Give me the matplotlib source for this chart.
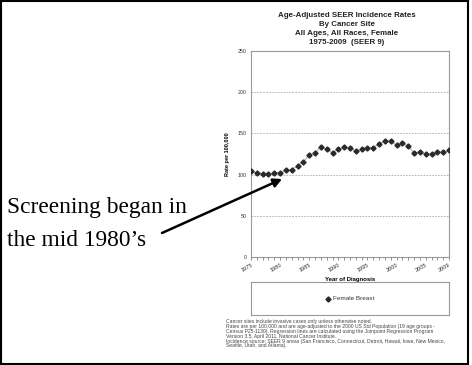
import matplotlib
matplotlib.use("Agg")
import matplotlib.pyplot as plt
from matplotlib.patches import Rectangle, FancyArrowPatch

# data
years = list(range(1975, 2010))
rates = [104.8, 101.6, 100.8, 100.8, 102.0, 102.0, 105.6, 106.0, 110.9, 115.7,
         123.8, 126.2, 133.9, 131.0, 126.6, 131.0, 133.4, 131.8, 128.6, 130.6,
         132.2, 132.6, 137.1, 140.7, 140.7, 135.9, 137.9, 134.7, 126.2, 127.4,
         125.0, 125.0, 127.0, 127.4, 129.4]
ytick_vals = [0, 50, 100, 150, 200, 250]
xtick_years = [1975, 1980, 1985, 1990, 1995, 2000, 2005, 2009]

title_lines = ["Age-Adjusted SEER Incidence Rates", "By Cancer Site",
               "All Ages, All Races, Female", "1975-2009  (SEER 9)"]
foot_lines = [
    "Cancer sites include invasive cases only unless otherwise noted.",
    "Rates are per 100,000 and are age-adjusted to the 2000 US Std Population (19 age groups -",
    "Census P25-1130). Regression lines are calculated using the Joinpoint Regression Program",
    "Version 3.5, April 2011, National Cancer Institute.",
    "Incidence source: SEER 9 areas (San Francisco, Connecticut, Detroit, Hawaii, Iowa, New Mexico,",
    "Seattle, Utah, and Atlanta).",
]

W, H = 472, 365
fig = plt.figure(figsize=(W / 100, H / 100), dpi=100)
sans = ["Liberation Sans", "DejaVu Sans"]
serif = ["Liberation Serif", "DejaVu Serif"]

def fx(px):
    return px / W

def fy(py):
    return 1 - py / H

# main plot
ax = fig.add_axes([fx(251), fy(257), fx(449 - 251), (257 - 51) / H])
ax.plot(years, rates, color="#b0b0b0", lw=0.8, zorder=2)
ax.plot(years, rates, ls="none", marker="D", ms=2.6, color="#2a2a2a", zorder=3)
ax.set_xlim(1975, 2009)
ax.set_ylim(0, 250)
ax.set_yticks(ytick_vals)
ax.set_yticklabels([str(v) for v in ytick_vals], fontsize=3.8, family=sans, color="#333333")
ax.set_xticks(xtick_years)
ax.set_xticks(years, minor=True)
ax.set_xticklabels([str(y) for y in xtick_years], fontsize=4.1, family=sans,
                   rotation=30, ha="right", rotation_mode="anchor", color="#333333")
ax.tick_params(axis="both", which="both", length=2, width=0.5, color="#666666", pad=1.5)
ax.tick_params(axis="y", length=0, pad=3)
for y in ytick_vals[1:-1]:
    ax.axhline(y, color="#aaaaaa", lw=0.6, ls=(0, (2, 1.5)), zorder=1)
for s in ax.spines.values():
    s.set_color("#999999")
    s.set_linewidth(0.8)
ax.set_ylabel("Rate per 100,000", fontsize=4, family=sans, fontweight="bold", labelpad=6)
ax.set_xlabel("Year of Diagnosis", fontsize=4.3, family=sans, fontweight="bold", labelpad=3)

# title block
for i, line in enumerate(title_lines):
    fig.text(fx(347), fy(15.5 + i * 9), line, ha="center", va="center",
             fontsize=5.7, family=sans, fontweight="bold", color="#222222")

# legend box
lax = fig.add_axes([fx(251), fy(315), fx(449 - 251), 33 / H])
lax.set_xticks([])
lax.set_yticks([])
for s in lax.spines.values():
    s.set_color("#999999")
    s.set_linewidth(0.8)
lax.plot([0.39], [0.5], ls="none", marker="D", ms=2.6, color="#2a2a2a")
lax.text(0.415, 0.5, "Female Breast", ha="left", va="center", fontsize=4.6,
         family=sans, color="#333333")
lax.set_xlim(0, 1)
lax.set_ylim(0, 1)

# footnotes
for i, line in enumerate(foot_lines):
    fig.text(fx(226), fy(322 + i * 4.8), line, ha="left", va="center",
             fontsize=3.65, family=sans, color="#444444")

# annotation
fig.text(fx(7), fy(208), "Screening began in", ha="left", va="center",
         fontsize=16.8, family=serif, color="black")
fig.text(fx(7), fy(240), "the mid 1980\u2019s", ha="left", va="center",
         fontsize=16.8, family=serif, color="black")
fig.patches.append(FancyArrowPatch(
    (fx(162), fy(233)), (fx(282), fy(179)), transform=fig.transFigure,
    arrowstyle="-|>,head_length=5,head_width=2.6", lw=1.8, color="black",
    shrinkA=0, shrinkB=0))

# outer frame
fig.patches.append(Rectangle((fx(1), fy(364)), fx(468 - 1), (364 - 1) / H,
                             transform=fig.transFigure, fill=False,
                             edgecolor="black", lw=1.5))

fig.savefig("out.png", dpi=100)
